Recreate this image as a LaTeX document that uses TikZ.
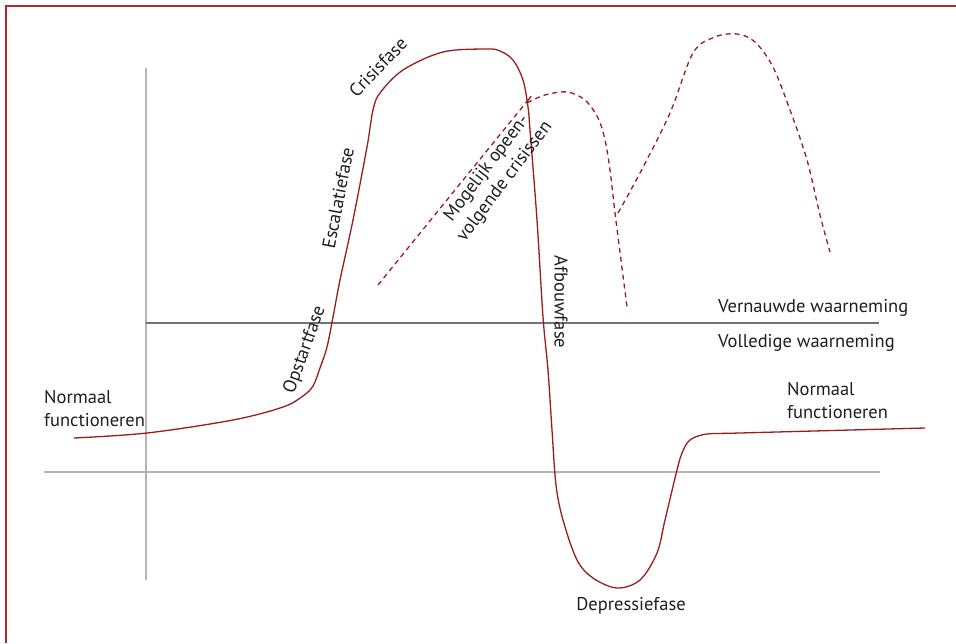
\documentclass[tikz,border=0pt]{standalone}
\usepackage{fontspec}
\setmainfont{PT Sans}
\definecolor{crisisred}{HTML}{9B1C1C}
\definecolor{framered}{HTML}{B02A2A}
\definecolor{axisgray}{HTML}{B4B4B4}
\definecolor{bandgray}{HTML}{727272}
\definecolor{txtgray}{HTML}{1E1E1E}

\begin{document}
\begin{tikzpicture}[x=1pt,y=-1pt,
  curve/.style={crisisred,line width=1.3pt},
  opeen/.style={crisisred,line width=1.3pt,dash pattern=on 5pt off 4pt},
  axis/.style={axisgray,line width=1.5pt},
  lbl/.style={text=txtgray,font=\fontsize{18.5}{22.5}\selectfont,inner sep=0pt}]
\useasboundingbox (0,0) rectangle (956,643);
% kader
\draw[framered,line width=1.6pt] (6,643) -- (6,6) -- (956,6);
% assen
\draw[axis] (146,68) -- (146,580);
\draw[axis] (44,472) -- (880,472);
\draw[bandgray,line width=2.2pt] (146,323) -- (879,323);
% crisiscurve
\draw[curve] plot[smooth,tension=0.55] coordinates {
  (74,438) (147,433) (233,420) (283,407) (303,396) (313,386) (320,368)
  (327,347) (333,317) (340,280) (353,220) (367,147) (373,110) (380,93)
  (403,70) (443,52) (487,49) (500,51) (513,60) (523,80) (528,107) (530,130)
  (537,220) (543,317) (548,370) (552,430) (556,485) (563,520) (577,560)
  (593,578) (617,588) (640,580) (657,553) (665,520) (677,470) (682,453)
  (690,440) (707,434) (740,433) (925,428)};
% mogelijke opeenvolgende crisissen
\draw[opeen] plot[smooth,tension=0.55] coordinates {
  (378,285) (520,110) (527,103) (545,95) (567,92) (585,100) (598,118)
  (605,140) (610,170) (615,213) (621,260) (627,307)};
\draw[opeen] plot[smooth,tension=0.55] coordinates {
  (618,213) (640,173) (670,113) (693,53) (715,37) (737,34) (755,42)
  (773,67) (790,110) (807,160) (820,215) (830,252)};
% labels
\node[lbl,anchor=base west,align=left] (normaal_l) at (44,426) {Normaal\\functioneren};
\node[lbl,anchor=base west,align=left] (normaal_r) at (787,418) {Normaal\\functioneren};
\node[lbl,anchor=base west] (vernauwd) at (718,312) {Vernauwde waarneming};
\node[lbl,anchor=base west] (volledig) at (718,347) {Volledige waarneming};
\node[lbl,anchor=base] (depressie) at (631,610) {Depressiefase};
\node[lbl,rotate=46] (crisis) at (378,67) {Crisisfase};
\node[lbl,rotate=79] (escalatie) at (338,198) {Escalatiefase};
\node[lbl,rotate=70] (opstart) at (305,350) {Opstartfase};
\node[lbl,rotate=-90] (afbouw) at (561,302) {Afbouwfase};
\node[lbl,rotate=53,align=center] (opeenvolg) at (496,175) {Mogelijk opeen-\\volgende crisissen};
\end{tikzpicture}
\end{document}
